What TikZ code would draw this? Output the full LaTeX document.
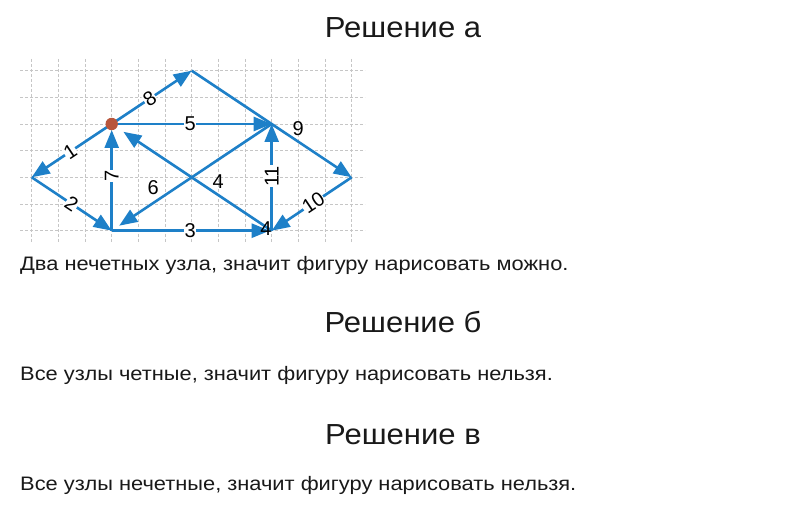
\documentclass[tikz,border=0pt]{standalone}
\usepackage{fontspec}
\setmainfont{Liberation Sans}
\newfontfamily\titlefont[FakeStretch=1.07]{Liberation Sans}
\newfontfamily\bodyfont[FakeStretch=1.12]{Liberation Sans}
\usetikzlibrary{arrows.meta}
\definecolor{edgeblue}{RGB}{30,128,200}
\definecolor{dotred}{RGB}{184,86,60}
\definecolor{gridgray}{RGB}{198,198,198}
\definecolor{textdark}{RGB}{25,25,25}
\tikzset{
  edge/.style={draw=edgeblue, line width=2.6pt, -{Triangle[length=18pt,width=14pt]}},
  gridline/.style={draw=gridgray, line width=1pt, dash pattern=on 3pt off 2pt},
  lbl/.style={fill=white, inner sep=0.5pt, text=black, font=\fontsize{20}{23}\selectfont},
  freelbl/.style={inner sep=0pt, text=black, font=\fontsize{20}{23}\selectfont},
  title/.style={anchor=base, inner sep=0pt, text=textdark, font=\titlefont\fontsize{29}{34}\selectfont},
  body/.style={anchor=base west, inner sep=0pt, text=textdark, font=\bodyfont\fontsize{19.5}{23}\selectfont},
}
\begin{document}
\begin{tikzpicture}[x=1pt,y=-1pt]
\useasboundingbox (0,0) rectangle (800,526);
\fill[white] (0,0) rectangle (800,526);
% grid
\foreach \k in {0,...,6} {
  \draw[gridline] (20,{70.7+\k*26.667}) -- (365,{70.7+\k*26.667});
}
\foreach \k in {0,...,12} {
  \draw[gridline] ({31.7+\k*26.667},59) -- ({31.7+\k*26.667},243);
}
% vertices
\coordinate (A) at (31.7,177.3);
\coordinate (C) at (111.7,230.7);
\coordinate (D) at (191.7,70.7);
\coordinate (E) at (271.7,124);
\coordinate (F) at (271.7,230.7);
\coordinate (G) at (351.7,177.3);
\coordinate (B) at (111.7,124);
% edges
\draw[edge] (B) -- (A) node[lbl, pos=0.52, rotate=33.7] (l1) {1};
\draw[edge] (A) -- (C) node[lbl, pos=0.5, rotate=-33.7] (l2) {2};
\draw[edge, shorten >=6pt] (C) -- (B) node[lbl, pos=0.51, rotate=90] (l7) {7};
\draw[edge] (B) -- (D) node[lbl, pos=0.475, rotate=33.7] (l8) {8};
\draw[edge] (B) -- (E) node[lbl, pos=0.49] (l5) {5};
\draw[edge] (D) -- (G);
\draw[edge] (G) -- (F) node[lbl, pos=0.48, rotate=33.7] (l10) {10};
\draw[edge] (F) -- (E) node[lbl, pos=0.51, rotate=90] (l11) {11};
\draw[edge, shorten >=2pt] (C) -- (F) node[lbl, pos=0.49] (l3) {3};
\draw[edge, shorten >=14pt] (F) -- (B);
\draw[edge, shorten >=9pt] (E) -- (C);
\node[freelbl] (l9) at (298.3,128.3) {9};
\node[freelbl] (l4) at (218.3,181.7) {4};
\node[freelbl] (l6) at (153.3,187.7) {6};
\node[freelbl] (lF) at (266,229) {4};
\node[circle, fill=dotred, inner sep=0pt, minimum size=12.4pt] (Bdot) at (B) {};
% texts
\node[title] (t1) at (403,38) {Решение а};
\node[body] (p1) at (20,271) {Два нечетных узла, значит фигуру нарисовать можно.};
\node[title] (t2) at (403,333) {Решение б};
\node[body] (p2) at (20,380.7) {Все узлы четные, значит фигуру нарисовать нельзя.};
\node[title] (t3) at (403,444) {Решение в};
\node[body] (p3) at (20,490.7) {Все узлы нечетные, значит фигуру нарисовать нельзя.};
\end{tikzpicture}
\end{document}
